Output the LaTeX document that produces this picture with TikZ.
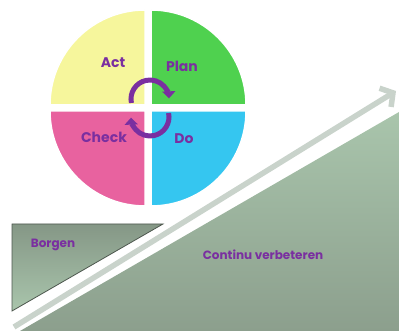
\documentclass[tikz,border=0pt]{standalone}
\usepackage{fontspec}
\setmainfont{Poppins}
\usepackage{xcolor}
\usetikzlibrary{arrows.meta}
\definecolor{actyellow}{HTML}{F6F69C}
\definecolor{plangreen}{HTML}{4FD14F}
\definecolor{checkpink}{HTML}{E8629F}
\definecolor{docyan}{HTML}{35C6F0}
\definecolor{cyclepurple}{HTML}{7A2FA0}
\definecolor{baselight}{HTML}{A9C5AC}
\definecolor{basedark}{HTML}{8C9F8D}
\definecolor{arrowgray}{HTML}{C9D3CB}
\tikzset{
  pdcalabel/.style={text=cyclepurple, font=\bfseries\fontsize{14}{16}\selectfont},
  baselabel/.style={text=cyclepurple, font=\bfseries\fontsize{12}{14}\selectfont},
  quarter/.style={draw=white, line width=1.5pt},
  cyclearc/.style={cyclepurple, line width=5pt, -{Triangle[length=7pt,width=13pt]}}
}
\begin{document}
\begin{tikzpicture}[x=1pt,y=1pt]
        \useasboundingbox (0,0) rectangle (399,331);

        % Draw the four quarters of the circle
        \fill[actyellow, quarter] (145,226) -- (50,226) arc (180:90:95) -- cycle;
        \fill[plangreen, quarter] (151,226) -- (151,321) arc (90:0:95) -- cycle;
        \fill[checkpink, quarter] (145,220) -- (145,125) arc (270:180:95) -- cycle;
        \fill[docyan, quarter] (151,220) -- (246,220) arc (0:-90:95) -- cycle;

        % Label the quarters
        \node[pdcalabel] (act) at (113,268) {Act};
        \node[pdcalabel] (plan) at (182,265) {Plan};
        \node[pdcalabel] (check) at (104,194) {Check};
        \node[pdcalabel] (do) at (184,192) {Do};

        % Draw the two arrows of the cycle
        \draw[cyclearc] (150,232) ++(192:19) arc (192:2:19);
        \draw[cyclearc] (150,214) ++(12:19) arc (12:-178:19);

        % Draw the large slope
        \shade[top color=baselight, bottom color=basedark] (20,0) -- (399,0) -- (399,219) -- cycle;

        % Draw the small triangle
        \shade[top color=basedark!95!black, bottom color=baselight, draw=basedark!55!black, line width=0.8pt]
          (12,107) -- (163,107) -- (12,20) -- cycle;

        % Draw the rising arrow
        \coordinate (risestart) at (14,4);
        \coordinate (risetip) at (396,240);
        \draw[arrowgray, line width=5.5pt, -{Straight Barb[length=9pt,width=22pt]}] (risestart) -- (risetip);

        % Label the slope and the triangle
        \node[baselabel] (borgen) at (53,86) {Borgen};
        \node[baselabel] (verbeteren) at (263,76) {Continu verbeteren};

    \end{tikzpicture}
\end{document}
